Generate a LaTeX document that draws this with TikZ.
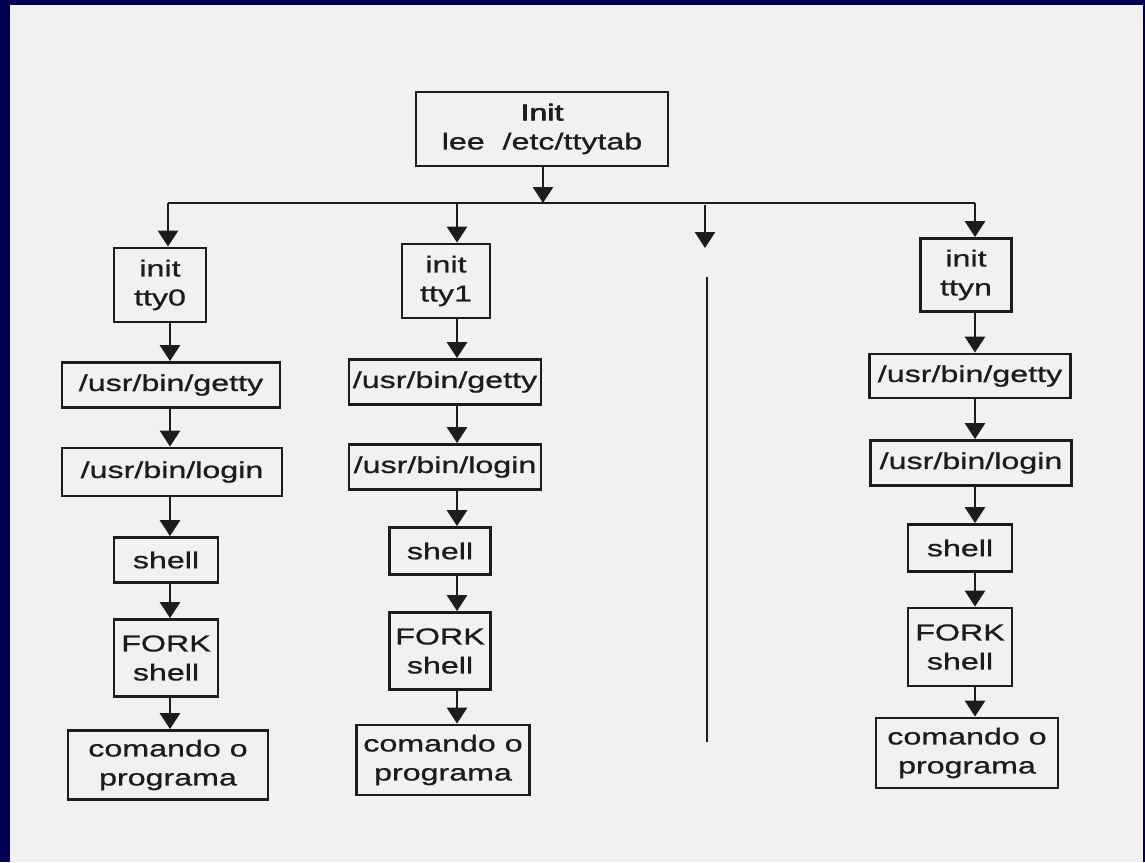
\documentclass[tikz,border=0pt]{standalone}
\usepackage{fontspec}
\setmainfont{Liberation Sans}[FakeStretch=1.4, FakeBold=0.9]
\newfontfamily\gruesa{Liberation Sans}[FakeStretch=1.4, FakeBold=2.6]
\usetikzlibrary{arrows.meta}

\definecolor{marco}{RGB}{0,0,82}
\definecolor{papel}{RGB}{241,241,239}
\definecolor{tinta}{RGB}{28,28,28}

\tikzset{
  caja/.style={draw=tinta, text=tinta, line width=2.8pt, align=center, inner sep=0pt,
    font=\fontsize{23}{29}\selectfont},
  flecha/.style={draw=tinta, line width=2.8pt, -{Triangle[width=20pt,length=16pt]}},
  linea/.style={draw=tinta, line width=2.8pt}
}

\begin{document}
\begin{tikzpicture}[x=1pt, y=-1pt]
    % Fondo y marco
    \fill[marco] (0,0) rectangle (1145,862);
    \fill[papel] (10,5) rectangle (1143,862);
    \useasboundingbox (0,0) rectangle (1145,862);

    % Proceso inicial
    \node[caja, minimum width=252, minimum height=74] (init) at (542,129) {{\gruesa Init}\\lee \ /etc/ttytab};

    % Columna tty0
    \node[caja, minimum width=92, minimum height=74] (t0) at (160,285) {init\\tty0};
    \node[caja, minimum width=218, minimum height=45] (g0) at (171,385) {/usr/bin/getty};
    \node[caja, minimum width=220, minimum height=48] (l0) at (172,472) {/usr/bin/login};
    \node[caja, minimum width=104, minimum height=45] (s0) at (166,560) {shell};
    \node[caja, minimum width=104, minimum height=77] (f0) at (166,658) {FORK\\shell};
    \node[caja, minimum width=200, minimum height=69] (c0) at (168,765) {comando o\\programa};

    % Columna tty1
    \node[caja, minimum width=88, minimum height=74] (t1) at (446,281) {init\\tty1};
    \node[caja, minimum width=192, minimum height=45] (g1) at (445,382) {/usr/bin/getty};
    \node[caja, minimum width=192, minimum height=45] (l1) at (445,467) {/usr/bin/login};
    \node[caja, minimum width=101, minimum height=47] (s1) at (440,551) {shell};
    \node[caja, minimum width=101, minimum height=77] (f1) at (440,651) {FORK\\shell};
    \node[caja, minimum width=173, minimum height=70] (c1) at (443,760) {comando o\\programa};

    % Columna ttyn
    \node[caja, minimum width=91, minimum height=73] (tn) at (966,275) {init\\ttyn};
    \node[caja, minimum width=201, minimum height=44] (gn) at (970,376) {/usr/bin/getty};
    \node[caja, minimum width=201, minimum height=45] (ln) at (971,463) {/usr/bin/login};
    \node[caja, minimum width=104, minimum height=47] (sn) at (960,548) {shell};
    \node[caja, minimum width=104, minimum height=78] (fn) at (960,647) {FORK\\shell};
    \node[caja, minimum width=182, minimum height=70] (cn) at (967,753) {comando o\\programa};

    % Ejes de las flechas
    \coordinate (x0) at (170,0);
    \coordinate (x1) at (457,0);
    \coordinate (xn) at (975,0);
    \coordinate (bl) at (168,203);
    \coordinate (bm) at (543,203);
    \coordinate (br) at (975,203);

    % Bus de reparto
    \draw[linea] (bl) -- (br);
    \draw[flecha] (init.south -| bm) -- (bm);
    \draw[flecha] (bl) -- (t0.north -| bl);
    \draw[flecha] (bl -| x1) -- (t1.north -| x1);
    \draw[flecha] (br) -- (tn.north -| br);

    % Cadenas de cada terminal
    \foreach \c in {0,1,n} {
        \draw[flecha] (t\c.south -| x\c) -- (g\c.north -| x\c);
        \draw[flecha] (g\c.south -| x\c) -- (l\c.north -| x\c);
        \draw[flecha] (l\c.south -| x\c) -- (s\c.north -| x\c);
        \draw[flecha] (s\c.south -| x\c) -- (f\c.north -| x\c);
        \draw[flecha] (f\c.south -| x\c) -- (c\c.north -| x\c);
    }

    % Terminales intermedias
    \coordinate (m1) at (705,205);
    \coordinate (m2) at (705,248);
    \draw[flecha] (m1) -- (m2);
    \coordinate (v1) at (707,277);
    \coordinate (v2) at (707,742);
    \draw[linea] (v1) -- (v2);
\end{tikzpicture}
\end{document}
